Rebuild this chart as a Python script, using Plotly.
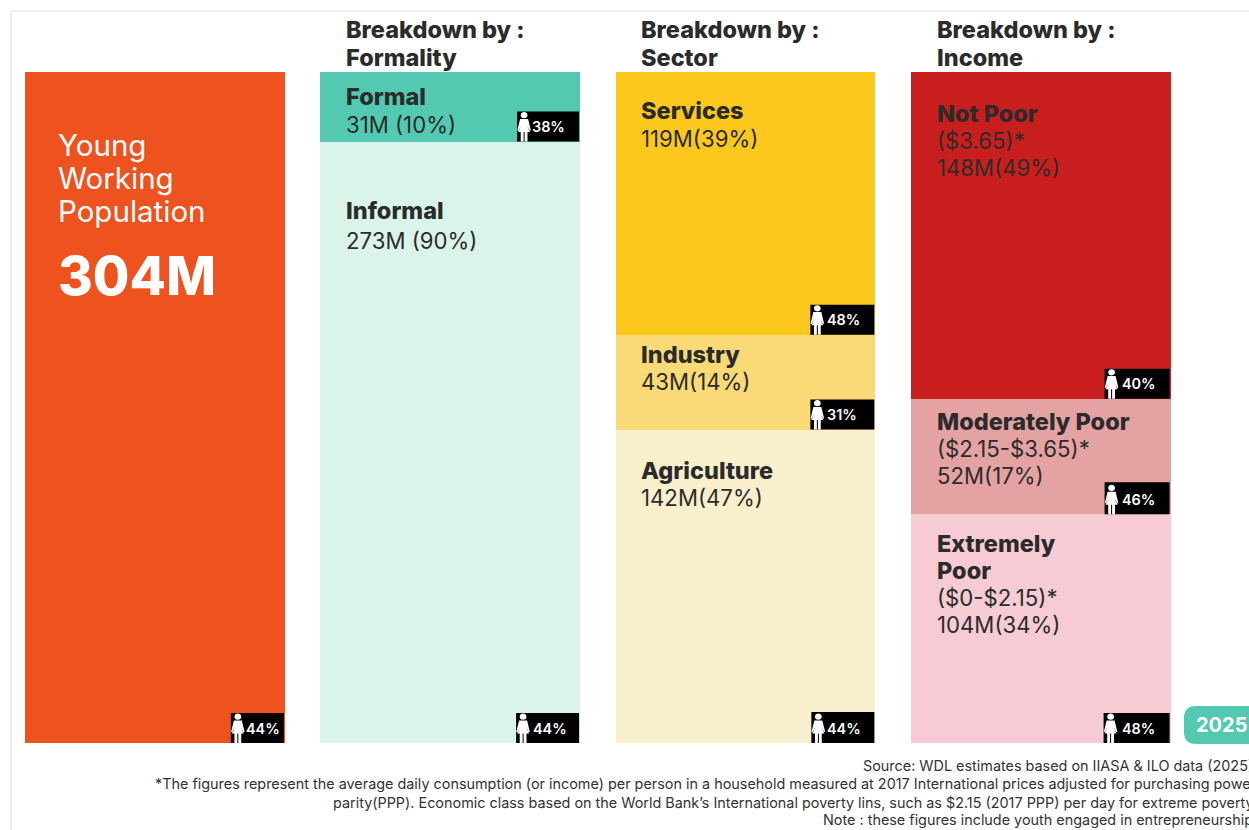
import plotly.graph_objects as go

# ---------- data ----------
COLUMNS = ["Total", "Formality", "Sector", "Income"]
HEADERS = [None, ["Breakdown by :", "Formality"], ["Breakdown by :", "Sector"], ["Breakdown by :", "Income"]]

SEG_COLUMN = [0, 1, 1, 2, 2, 2, 3, 3, 3]
SEG_VALUES = [304, 31.5, 272.5, 119, 43, 142, 148, 52.4, 103.6]
SEG_COLORS = ["#EE521E", "#52C9B0", "#DAF4EA", "#FCC81E", "#FAD977", "#F9EFCC", "#C91E1E", "#E4A2A2", "#F6CBD3"]
SEG_FEMALE = ["44%", "38%", "44%", "48%", "31%", "44%", "40%", "46%", "48%"]
SEG_BOLD = [None, ["Formal"], ["Informal"], ["Services"], ["Industry"], ["Agriculture"],
            ["Not Poor"], ["Moderately Poor"], ["Extremely", "Poor"]]
SEG_PLAIN = [None, ["31M (10%)"], ["273M (90%)"], ["119M(39%)"], ["43M(14%)"], ["142M(47%)"],
             ["($3.65)*", "148M(49%)"], ["($2.15-$3.65)*", "52M(17%)"], ["($0-$2.15)*", "104M(34%)"]]
TOTAL_LINES = ["Young", "Working", "Population"]
TOTAL_VALUE = "304M"
YEAR = "2025"
FOOTER = [
    "Source: WDL estimates based on IIASA & ILO data (2025).",
    "*The figures represent the average daily consumption (or income) per person in a household measured at 2017 International prices adjusted for purchasing power",
    "parity(PPP). Economic class based on the World Bank’s International poverty lins, such as $2.15 (2017 PPP) per day for extreme poverty.",
    "Note : these figures include youth engaged in entrepreneurship.",
]

# ---------- layout constants ----------
W, H = 1249, 830
TOP, BOTTOM = 72, 743
PITCH = 295.25
BAR_W = 259.7 / PITCH
FONT = "Inter, Lato, sans-serif"
INK = "#2b2b2b"

# vertical pixel offset of each text line below the top of its segment
LINE_OFFSETS = [None, [24, 52], [69, 99], [38, 66], [20, 47], [41, 68],
                [41, 68, 95], [23, 50, 77], [29, 56, 83, 110]]
BADGE_W = [54, 63, 64, 65, 65, 64, 66, 66, 67]
BADGE_H = [30, 30, 30, 30, 30, 31, 30, 32, 30]
BADGE_TEXT = [15, 15, 17, 17, 17, 16, 17, 17, 18]
COL_TEXT_X = [32, 25, 24, 25]


def px(x):
    return x / W


def py(y):
    return (BOTTOM - y) / (BOTTOM - TOP)


fig = go.Figure()
cum = {}
shapes, ann = [], []


def text(x, y, s, size, color=INK, xshift=0, yshift=0, anchor="left", xref="x", yref="y", weight=None):
    f = dict(family=FONT, size=size, color=color)
    if weight:
        f["weight"] = weight
    ann.append(dict(x=x, y=y, xref=xref, yref=yref, text=s, showarrow=False, xanchor=anchor, yanchor="middle",
                    xshift=xshift, yshift=yshift, borderpad=0, align=anchor, font=f))


def icon_path(L):
    # small white figure of a woman, coordinates in pixels relative to the anchor
    c = L + 7
    k = 3.4
    return (
        f"M{c},29.5 C{c+2.2},29.5 {c+k},28 {c+k},26.3 C{c+k},24.6 {c+2.2},23.2 {c},23.2 "
        f"C{c-2.2},23.2 {c-k},24.6 {c-k},26.3 C{c-k},28 {c-2.2},29.5 {c},29.5 Z "
        f"M{c-4},22.6 L{c+4},22.6 L{c+6.8},11 L{c+5},11 L{c+3.2},16 L{c+6},9.5 L{c+3.4},9.5 L{c+3.4},0 "
        f"L{c+0.5},0 L{c+0.5},9.5 L{c-0.5},9.5 L{c-0.5},0 L{c-3.4},0 L{c-3.4},9.5 L{c-6},9.5 "
        f"L{c-3.2},16 L{c-5},11 L{c-6.8},11 Z"
    )


for i, (col, val, colr) in enumerate(zip(SEG_COLUMN, SEG_VALUES, SEG_COLORS)):
    fig.add_trace(go.Bar(x=[col], y=[val], width=BAR_W, marker=dict(color=colr, line_width=0),
                         name=COLUMNS[col], showlegend=False, hoverinfo="y"))
    top = cum.get(col, 0)
    bottom = top + val
    cum[col] = bottom
    left, right = col - BAR_W / 2, col + BAR_W / 2

    # badge
    w = BADGE_W[i]
    bh = BADGE_H[i]
    shapes.append(dict(type="rect", xref="x", yref="y", xsizemode="pixel", ysizemode="pixel",
                       xanchor=right, yanchor=bottom, x0=-w, x1=-1, y0=0, y1=bh,
                       fillcolor="#000000", line_width=0, layer="above"))
    shapes.append(dict(type="path", xref="x", yref="y", xsizemode="pixel", ysizemode="pixel",
                       xanchor=right, yanchor=bottom, path=icon_path(-w), fillcolor="#ffffff",
                       line_width=0, layer="above"))
    text(right, bottom, SEG_FEMALE[i], 14.4, "#ffffff", xshift=-w + BADGE_TEXT[i] - 1, yshift=15, weight=600)

    # labels
    if SEG_BOLD[i]:
        lines = [(s, 800, 23.5) for s in SEG_BOLD[i]] + [(s, 400, 22.2) for s in SEG_PLAIN[i]]
        for (s, wt, sz), off in zip(lines, LINE_OFFSETS[i]):
            text(left, top, s, sz, INK, xshift=COL_TEXT_X[col], yshift=-off, weight=wt)

# total column text
for s, off in zip(TOTAL_LINES, [73, 106, 139]):
    text(-BAR_W / 2, 0, s, 29.5, "#ffffff", xshift=COL_TEXT_X[0], yshift=-off, weight=400)
text(-BAR_W / 2, 0, TOTAL_VALUE, 53, "#ffffff", xshift=COL_TEXT_X[0], yshift=-204, weight=800)

# headers
for col, h in enumerate(HEADERS):
    if h:
        for s, off in zip(h, [43, 15]):
            text(col - BAR_W / 2, 0, s, 23.5, INK, xshift=COL_TEXT_X[col], yshift=off, weight=800)

# year pill
shapes.append(dict(type="path", xref="paper", yref="paper",
                   path=f"M{px(1270)},{py(706)} L{px(1196)},{py(706)} Q{px(1184)},{py(706)} {px(1184)},{py(718)} "
                        f"L{px(1184)},{py(732)} Q{px(1184)},{py(744)} {px(1196)},{py(744)} L{px(1270)},{py(744)} Z",
                   fillcolor="#52C9B0", line_width=0))
text(px(1221), py(724.5), YEAR, 20, "#ffffff", anchor="center", xref="paper", yref="paper", weight=700)

# footer
for s, y in zip(FOOTER, [765, 784, 802, 820]):
    text(px(1258), py(y), s, 14.4, "#333333", anchor="right", xref="paper", yref="paper")

# frame
shapes.append(dict(type="path", xref="paper", yref="paper", layer="below",
                   path=f"M{px(11)},{py(830)} L{px(11)},{py(11)} L{px(1249)},{py(11)}",
                   line=dict(color="#EEEEEE", width=2)))

fig.update_layout(
    width=W, height=H, margin=dict(l=0, r=0, t=TOP, b=H - BOTTOM, pad=0),
    barmode="stack", bargap=0, paper_bgcolor="#ffffff", plot_bgcolor="rgba(0,0,0,0)",
    xaxis=dict(range=[-155 / PITCH, -155 / PITCH + W / PITCH], visible=False, fixedrange=True),
    yaxis=dict(range=[SEG_VALUES[0], 0], visible=False, fixedrange=True),
    shapes=shapes, annotations=ann,
)
fig.write_html("out.html", post_script="document.body.style.margin='0';document.body.style.overflow='hidden';",
               config={"displayModeBar": False})
